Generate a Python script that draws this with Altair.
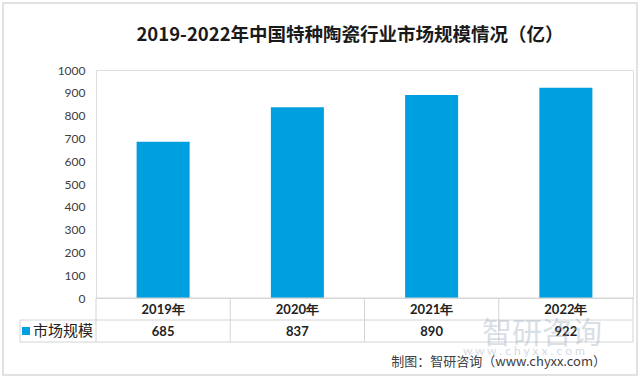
import altair as alt
import pandas as pd

years = ["2019", "2020", "2021", "2022"]
year_labels = ["2019年", "2020年", "2021年", "2022年"]
values = [685, 837, 890, 922]
series_name = "市场规模"
title_text = "2019-2022年中国特种陶瓷行业市场规模情况（亿）"
source_text = "制图：智研咨询（www.chyxx.com）"
y_ticks = [0, 100, 200, 300, 400, 500, 600, 700, 800, 900, 1000]

BLUE = "#009FDF"
W, H = 537, 228
CJK = "Noto Sans CJK SC"
LAT = "Lato"

df = pd.DataFrame({"year": years, "label": year_labels, "value": values})
one = pd.DataFrame({"k": [0]})

xscale = alt.Scale(domain=years, paddingInner=0.605, paddingOuter=0.3025)
X = alt.X("year:N", scale=xscale, axis=None)

bars = alt.Chart(df).mark_bar(color=BLUE).encode(
    x=X,
    y=alt.Y("value:Q", scale=alt.Scale(domain=[0, 1000], nice=False),
            axis=alt.Axis(values=y_ticks, format="d", title=None, domain=False,
                          ticks=False, grid=False, labelPadding=11, labelFontSize=12,
                          labelFont=LAT, labelColor="#404040")),
)

year_text = alt.Chart(df).mark_text(font=LAT, fontSize=13, fontWeight="bold",
                                    color="#222222").encode(
    x=X, y=alt.value(239.5), text="label:N")
val_text = alt.Chart(df).mark_text(font=LAT, fontSize=13, fontWeight="bold",
                                   color="#222222").encode(
    x=X, y=alt.value(261.5), text="value:Q")

LINE = "#d4d4d4"
hlines = pd.DataFrame({"x1": [0, -76, -76], "x2": [W, W, W], "y": [228, 250, 272]})
h_rules = alt.Chart(hlines).mark_rule(color=LINE, strokeWidth=1).encode(
    x=alt.X("x1:Q", scale=alt.Scale(domain=[0, W], range=[0, W]), axis=None),
    x2="x2:Q",
    y=alt.Y("y:Q", scale=alt.Scale(domain=[0, H], range=[0, H]), axis=None),
)
vlines = pd.DataFrame({"x": [-76, 0, W / 4, W / 2, 3 * W / 4, W],
                       "y1": [250, 228, 228, 228, 228, 228],
                       "y2": [272] * 6})
v_rules = alt.Chart(vlines).mark_rule(color=LINE, strokeWidth=1).encode(
    x=alt.X("x:Q", scale=alt.Scale(domain=[0, W], range=[0, W]), axis=None),
    y=alt.Y("y1:Q", scale=alt.Scale(domain=[0, H], range=[0, H]), axis=None),
    y2="y2:Q",
)

legend_sq = alt.Chart(one).mark_square(color=BLUE, opacity=1, size=64).encode(
    x=alt.value(-70), y=alt.value(261))
legend_txt = alt.Chart(one).mark_text(font=CJK, fontSize=15, align="left",
                                      baseline="middle", color="#222222").encode(
    x=alt.value(-63), y=alt.value(261), text=alt.value(series_name))

title = alt.Chart(one).mark_text(font=CJK, fontSize=18.5, fontWeight="bold",
                                 baseline="middle", color="#1a1a1a").encode(
    x=alt.value(254), y=alt.value(-35), text=alt.value(title_text))

source = alt.Chart(one).mark_text(font=CJK, fontSize=13, align="right",
                                  baseline="middle", color="#404040").encode(
    x=alt.value(510), y=alt.value(292), text=alt.value(source_text))

wm1 = alt.Chart(one).mark_text(font=CJK, fontSize=30, color="#9fb0bf",
                               opacity=0.4, baseline="middle").encode(
    x=alt.value(446), y=alt.value(264), text=alt.value("智研咨询"))
wm2 = alt.Chart(one).mark_text(font=LAT, fontSize=12, color="#9fb0bf",
                               opacity=0.45, baseline="middle").encode(
    x=alt.value(428), y=alt.value(281), text=alt.value("w w w . c h y x x . c o m"))

frame = alt.Chart(one).mark_rect(fill=None, stroke="#d9d9d9", strokeWidth=1.5).encode(
    x=alt.value(-93), x2=alt.value(541), y=alt.value(-67), y2=alt.value(305))

chart = alt.layer(
    frame, bars, h_rules, v_rules, year_text, val_text, legend_sq, legend_txt,
    title, source, wm1, wm2
).resolve_scale(x="independent", y="independent").properties(
    width=W, height=H,
    autosize=alt.AutoSizeParams(type="none"),
    padding={"left": 96, "top": 70, "right": 7, "bottom": 80},
).configure_view(stroke=None).configure(background="white")

chart.save("out.html", embed_options={"renderer": "svg", "actions": False})
